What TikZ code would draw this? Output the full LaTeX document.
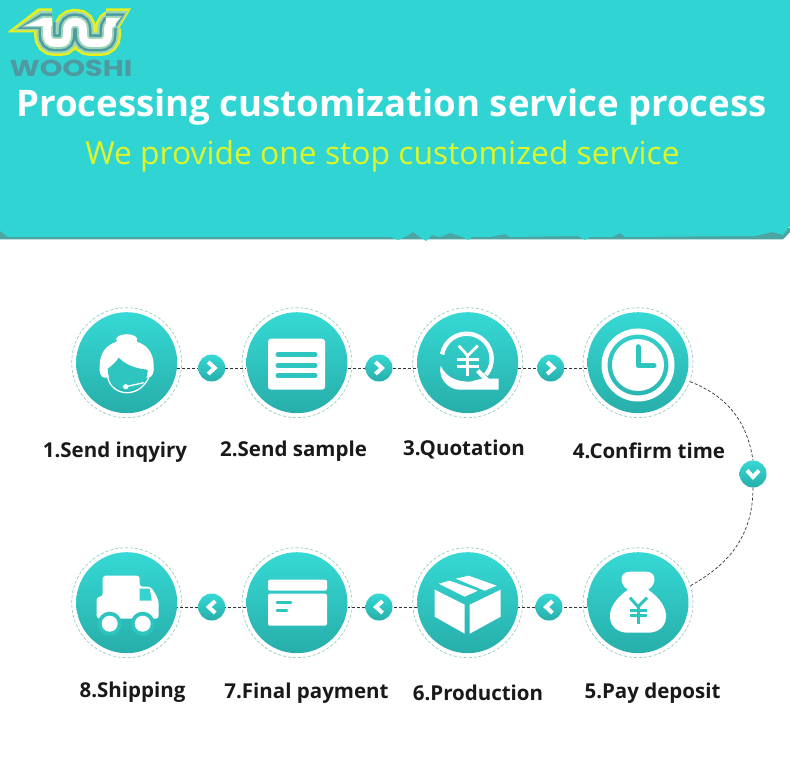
\documentclass[tikz,border=0pt]{standalone}
\usepackage{fontspec}
\setmainfont{Open Sans}
\newfontfamily\logofont{Poppins}
\usetikzlibrary{positioning}

\definecolor{banner}{HTML}{30D5D3}
\definecolor{bannerdark}{HTML}{4AA5A3}
\definecolor{tealtop}{HTML}{36D9D4}
\definecolor{tealbot}{HTML}{27AEAA}
\definecolor{tealmid}{HTML}{2EC4C0}
\definecolor{ringcol}{HTML}{94CCC4}
\definecolor{subtitle}{HTML}{DDF52A}
\definecolor{logoyellow}{HTML}{E6F01E}
\definecolor{logoteal}{HTML}{4F9AA0}
\definecolor{logolight}{HTML}{9AD6B8}

\tikzset{
    stepdisc/.style={circle, minimum size=101pt, inner sep=0pt, top color=tealtop, bottom color=tealbot},
    stepring/.style={circle, minimum size=110pt, inner sep=0pt, draw=ringcol, densely dashed, line width=0.7pt},
    chevdisc/.style={circle, minimum size=27pt, inner sep=0pt, top color=tealtop, bottom color=tealbot},
    steplabel/.style={font=\fontsize{20.5}{24}\selectfont\bfseries, text=black!90},
    linkline/.style={densely dashed, line width=0.7pt, black!80},
    chevmark/.style={draw=white, line width=4pt, line join=miter}
}

\begin{document}
\begin{tikzpicture}[x=1pt,y=-1pt]
    \useasboundingbox (0,0) rectangle (790,762);

    % Banner
    \fill[bannerdark] (0,228) -- (790,228) -- (790,232) -- (783,239.5) -- (0,239.5) -- cycle;
    \fill[banner] (0,0) -- (790,0) -- (790,226) -- (783,235) -- (772,232) -- (755,236) -- (625,237) -- (620,233) -- (612,237) -- (590,237) -- (585,240) -- (578,236) -- (510,237) -- (505,234) -- (490,237) -- (472,237) -- (468,240) -- (460,236) -- (450,233) -- (440,237) -- (432,235) -- (426,241) -- (420,237) -- (413,232) -- (405,237) -- (398,240) -- (390,237) -- (8,237) -- (0,231) -- cycle;

    % Logo
    \def\logopath{(47,22) -- (47,34) .. controls (47,40) and (50,43) .. (55,43) -- (60,43) .. controls (65,43) and (67,40) .. (67,34) -- (67,30) .. controls (67,25) and (70,22) .. (74,22) -- (76,22) .. controls (81,22) and (83,25) .. (83,30) -- (83,35) .. controls (83,40) and (86,43) .. (91,43) -- (100,43) .. controls (105,43) and (108,40) .. (108,35) -- (108,30) .. controls (108,25) and (111,22) .. (115,22)}
    \foreach \col/\wa/\lx/\ly/\tx/\ty/\rx/\bx/\by in {logoyellow/26/7/32.5/38/8.5/131/117/32, logolight/21/13/30.5/40/11/128/116/30.5, logoteal/17/17/29/41/13.5/125/115/29, logolight/12/21/27.5/42/16/122/114/27.5, white/8/25/26/43/18/120/113/26} {
        \fill[\col] (\lx,\ly) -- (\tx,\ty) -- (52,\ty) -- (52,\ly) -- cycle;
        \fill[\col] (106,\ty) -- (\rx,\ty) -- (\bx,\by) -- (106,\by) -- cycle;
        \draw[\col, line width=\wa pt] \logopath;
    }
    \node[xscale=1.25, text=logoteal] (logotext) at (71,68) {\logofont\fontsize{23}{23}\selectfont\bfseries WOOSHI};

    % Heading
    \node[text=white] (title) at (391.5,106.5) {\fontsize{36.6}{42}\selectfont\bfseries Processing customization service process};
    \node[text=subtitle] (subhead) at (382.5,156) {\fontsize{31.8}{38}\selectfont We provide one stop customized service};

    % Step discs
    \foreach \nm/\x/\y in {send/126.7/362.7, sample/297/362.7, quote/467.7/362.7, clock/638/362.7,
                           truck/126.7/602.7, card/297/602.7, box/467.7/602.7, bag/638/602.7} {
        \node[stepring] (\nm ring) at (\x,\y) {};
        \node[stepdisc] (\nm) at (\x,\y) {};
    }

    % Chevron discs
    \node[chevdisc] (ca) at (211.7,368) {};
    \node[chevdisc] (cb) at (379,368) {};
    \node[chevdisc] (cc) at (550.7,368) {};
    \node[chevdisc] (cd) at (753,474) {};
    \node[chevdisc] (ce) at (549,607) {};
    \node[chevdisc] (cf) at (379,607) {};
    \node[chevdisc] (cg) at (211.7,607) {};

    % Links
    \draw[linkline] (send.east |- ca) -- (ca.west);
    \draw[linkline] (ca.east) -- (sample.west |- ca);
    \draw[linkline] (sample.east |- cb) -- (cb.west);
    \draw[linkline] (cb.east) -- (quote.west |- cb);
    \draw[linkline] (quote.east |- cc) -- (cc.west);
    \draw[linkline] (cc.east) -- (clock.west |- cc);
    \draw[linkline] (bag.west |- ce) -- (ce.east);
    \draw[linkline] (ce.west) -- (box.east |- ce);
    \draw[linkline] (box.west |- cf) -- (cf.east);
    \draw[linkline] (cf.west) -- (card.east |- cf);
    \draw[linkline] (card.west |- cg) -- (cg.east);
    \draw[linkline] (cg.west) -- (truck.east |- cg);
    \draw[linkline] (clockring.-20) .. controls +(36,14) and +(-6,-40) .. (cd.north);
    \draw[linkline] (cd.south) .. controls +(0,50) and +(36,-20) .. (bagring.18);

    % Chevrons
    \foreach \nm in {ca,cb,cc}
        \draw[chevmark] ([xshift=-3.5pt,yshift=6pt]\nm.center) -- ([xshift=3pt]\nm.center) -- ([xshift=-3.5pt,yshift=-6pt]\nm.center);
    \foreach \nm in {ce,cf,cg}
        \draw[chevmark] ([xshift=3.5pt,yshift=6pt]\nm.center) -- ([xshift=-3pt]\nm.center) -- ([xshift=3.5pt,yshift=-6pt]\nm.center);
    \draw[chevmark] ([xshift=-6pt,yshift=3.5pt]cd.center) -- ([yshift=-3pt]cd.center) -- ([xshift=6pt,yshift=3.5pt]cd.center);

    % Icon 1: headset operator
    \begin{scope}[shift={(send.center)}]
        \fill[white] (-27,3) .. controls (-27,-10) and (-20,-18) .. (-10,-21) .. controls (-15,-31) and (15,-31) .. (10,-21) .. controls (20,-18) and (27,-10) .. (27,3) .. controls (28,9) and (25,15) .. (22,15) -- (-22,15) .. controls (-26,15) and (-28,9) .. (-27,3) -- cycle;
        \fill[tealmid] (-19,6) .. controls (-15,3) and (-11,0) .. (-8,-5) .. controls (0,3) and (10,6) .. (21,7) .. controls (21,34) and (-19,34) .. (-19,6) -- cycle;
        \draw[white, line width=1.3pt] (-19,15) .. controls (-14,34) and (12,36) .. (22,15);
        \draw[white, line width=1.3pt] (-1,24) -- (17,20);
        \fill[white] (-1,24) circle (2.6);
    \end{scope}

    % Icon 2: text sheet
    \begin{scope}[shift={(sample.center)}]
        \fill[white, rounded corners=3pt] (-29,-24) rectangle (28,27);
        \foreach \yy in {-8,2.5,13}
            \draw[tealmid, line width=5pt, line cap=round] (-19,\yy) -- (18,\yy);
    \end{scope}

    % Icon 3: coin in hand
    \begin{scope}[shift={(quote.center)}]
        \draw[white, line width=4.4pt] (-1,-4) ++(190:25) arc (190:400:25);
        \draw[white, line width=4.4pt] (10,8) -- (20,18);
        \draw[white, line width=2.8pt] (-9,-17) -- (0,-7) -- (10,-17);
        \draw[white, line width=2.8pt] (0,-7) -- (0,13);
        \draw[white, line width=2.8pt] (-11,-3) -- (11,-3);
        \draw[white, line width=2.8pt] (-11,4) -- (11,4);
        \fill[white] (-27,3) .. controls (-22,14) and (-12,19) .. (2,19) -- (14,16) -- (31,16) -- (31,27) -- (-8,27) .. controls (-20,27) and (-30,15) .. (-27,3) -- cycle;
    \end{scope}

    % Icon 4: clock
    \begin{scope}[shift={(clock.center)}]
        \draw[white, line width=6pt] (0,2.3) circle (33.5);
        \fill[white] (0,2.3) circle (26);
        \draw[tealmid, line width=5pt, line join=round, line cap=round] (0,-16) -- (0,3) -- (16,3);
    \end{scope}

    % Icon 5: money bag
    \begin{scope}[shift={(bag.center)}]
        \fill[white] (-10,-13) .. controls (-18,-17) and (-20,-31) .. (-8,-31) -- (8,-31) .. controls (20,-31) and (18,-17) .. (10,-13) .. controls (22,-5) and (29,6) .. (28,15) .. controls (27,26) and (18,30) .. (10,30) -- (-10,30) .. controls (-18,30) and (-27,26) .. (-28,15) .. controls (-29,6) and (-22,-5) .. (-10,-13) -- cycle;
        \begin{scope}[tealmid, line width=3pt]
            \draw (-8,-5) -- (0,4) -- (9,-5);
            \draw (0,4) -- (0,21);
            \draw (-8,8) -- (9,8);
            \draw (-8,13) -- (9,13);
        \end{scope}
    \end{scope}

    % Icon 6: carton
    \begin{scope}[shift={(box.center)}]
        \fill[white] (-33,-13) -- (-3,2) -- (-3,31) -- (-33,14) -- cycle;
        \fill[white] (2,2) -- (33,-13) -- (33,14) -- (2,31) -- cycle;
        \fill[white] (-29,-19) -- (-18,-22) -- (10,-12) -- (-3,-6) -- cycle;
        \fill[white] (-12,-24) -- (1,-27) -- (29,-17) -- (17,-12) -- cycle;
    \end{scope}

    % Icon 7: bank card
    \begin{scope}[shift={(card.center)}]
        \fill[white, rounded corners=2pt] (-29,-23) rectangle (30,-12);
        \fill[white, rounded corners=2pt] (-29,-9) rectangle (30,23);
        \draw[tealmid, line width=2.6pt, line cap=round] (-20,0) -- (-6,0);
        \draw[tealmid, line width=2.6pt, line cap=round] (-20,8) -- (-10,8);
    \end{scope}

    % Icon 8: truck
    \begin{scope}[shift={(truck.center)}]
        \fill[white, rounded corners=3pt] (-24,-27) -- (13,-27) -- (13,-16) -- (24,-16) .. controls (28,-10) and (32,-4) .. (32,4) -- (32,16) -- (-30,16) -- (-30,-6) -- (-24,-6) -- cycle;
        \fill[tealtop!85!tealbot] (13,-14) -- (23,-14) -- (25,-2) -- (13,-2) -- cycle;
        \fill[tealmid] (-17,21) circle (12) (16,21) circle (12);
        \fill[white] (-17,21) circle (8) (16,21) circle (8);
    \end{scope}

    % Step labels
    \node[steplabel] (lsend) at (115,452.5) {1.Send inqyiry};
    \node[steplabel] (lsample) at (293.5,451.5) {2.Send sample};
    \node[steplabel] (lquote) at (464,449.5) {3.Quotation};
    \node[steplabel] (lclock) at (649,451) {4.Confirm time};
    \node[steplabel] (ltruck) at (132.5,692) {8.Shipping};
    \node[steplabel] (lcard) at (306.5,693) {7.Final payment};
    \node[steplabel] (lbox) at (478,693) {6.Production};
    \node[steplabel] (lbag) at (652.5,693) {5.Pay deposit};
\end{tikzpicture}
\end{document}
